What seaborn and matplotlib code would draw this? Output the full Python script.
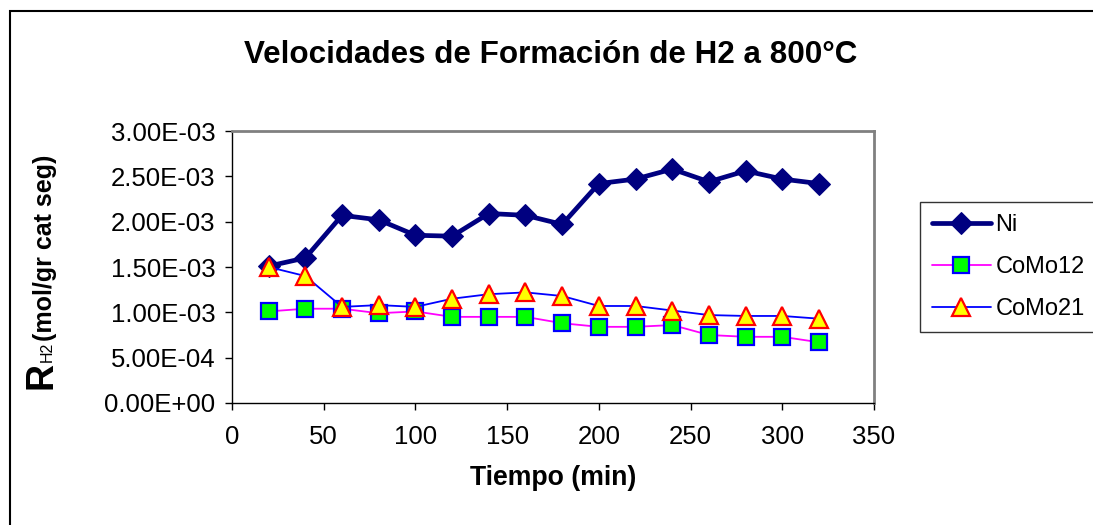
import numpy as np
import pandas as pd
import matplotlib
matplotlib.use("Agg")
import matplotlib.pyplot as plt
import seaborn as sns
from matplotlib.patches import Rectangle
from matplotlib.ticker import FuncFormatter

# ================== datos ==================
tiempo = [20, 40, 60, 80, 100, 120, 140, 160, 180, 200, 220, 240, 260, 280, 300, 320]
ni = [1.51e-3, 1.60e-3, 2.07e-3, 2.02e-3, 1.85e-3, 1.84e-3, 2.09e-3, 2.07e-3,
      1.97e-3, 2.42e-3, 2.47e-3, 2.58e-3, 2.44e-3, 2.56e-3, 2.47e-3, 2.42e-3]
como12 = [1.01e-3, 1.04e-3, 1.04e-3, 0.99e-3, 1.01e-3, 0.95e-3, 0.95e-3, 0.95e-3,
          0.88e-3, 0.84e-3, 0.84e-3, 0.86e-3, 0.75e-3, 0.73e-3, 0.73e-3, 0.67e-3]
como21 = [1.50e-3, 1.40e-3, 1.06e-3, 1.08e-3, 1.06e-3, 1.15e-3, 1.20e-3, 1.22e-3,
          1.18e-3, 1.07e-3, 1.07e-3, 1.02e-3, 0.97e-3, 0.96e-3, 0.96e-3, 0.93e-3]

df = pd.DataFrame({"Tiempo": tiempo, "Ni": ni, "CoMo12": como12, "CoMo21": como21})

sns.set_style("ticks")
plt.rcParams['font.family'] = ['Liberation Sans', 'DejaVu Sans']
plt.rcParams['text.color'] = 'black'
plt.rcParams['axes.labelcolor'] = 'black'

W, H = 1093, 525
fig = plt.figure(figsize=(W / 100, H / 100), dpi=100)
ax = fig.add_axes([232 / W, 1 - 403 / H, (874 - 232) / W, (403 - 131) / H])

sns.lineplot(data=df, x="Tiempo", y="Ni", ax=ax, color="#000080", lw=3.4,
             marker="D", markersize=11, markerfacecolor="#000080",
             markeredgecolor="#000080", label="Ni")
sns.lineplot(data=df, x="Tiempo", y="CoMo12", ax=ax, color="#FF00FF", lw=1.3,
             marker="s", markersize=11, markerfacecolor="#00FF00",
             markeredgecolor="#0000FF", markeredgewidth=1.6, label="CoMo12")
sns.lineplot(data=df, x="Tiempo", y="CoMo21", ax=ax, color="#0000FF", lw=1.3,
             marker="^", markersize=13, markerfacecolor="#FFFF00",
             markeredgecolor="#FF0000", markeredgewidth=1.6, label="CoMo21")

ax.set_xlim(0, 350)
ax.set_ylim(0, 0.003)
ax.set_xticks(np.arange(0, 351, 50))
ax.set_yticks(np.arange(0, 0.00301, 0.0005))
ax.yaxis.set_major_formatter(FuncFormatter(lambda v, p: "{:.2E}".format(v)))
ax.tick_params(axis="both", direction="out", length=5, width=1, colors="black",
               labelsize=18.5)
ax.tick_params(axis="x", pad=11)
ax.tick_params(axis="y", pad=7)
ax.set_xlabel("")
ax.set_ylabel("")

for s in ["left", "bottom"]:
    ax.spines[s].set_color("black")
    ax.spines[s].set_linewidth(1)
for s in ["top", "right"]:
    ax.spines[s].set_visible(True)
    ax.spines[s].set_color("#808080")
    ax.spines[s].set_linewidth(2)

ax.get_legend().remove()
handles, labels = ax.get_legend_handles_labels()
leg = fig.legend(handles, labels, loc="upper left",
                 bbox_to_anchor=(920 / W, 1 - 202 / H), fontsize=17,
                 frameon=True, fancybox=False, edgecolor="black",
                 handlelength=2.5, labelspacing=0.85, borderpad=0.5,
                 handletextpad=0.2, borderaxespad=0)
leg.get_frame().set_linewidth(1)

# titulo y etiquetas
fig.text(551 / W, 1 - 55 / H, "Velocidades de Formación de H2 a 800°C",
         ha="center", va="center", fontsize=22.6, fontweight="bold")
fig.text(553 / W, 1 - 478 / H, "Tiempo (min)", ha="center", va="center",
         fontsize=19.2, fontweight="bold")

base_x = 52 / W
fig.text(base_x, 1 - 389 / H, "R", rotation=90, rotation_mode="anchor",
         ha="left", va="baseline", fontsize=27, fontweight="bold")
fig.text(base_x, 1 - 362 / H, "H2", rotation=90, rotation_mode="anchor",
         ha="left", va="baseline", fontsize=11.5)
fig.text(base_x, 1 - 341 / H, "(mol/gr cat seg)", rotation=90,
         rotation_mode="anchor", ha="left", va="baseline", fontsize=18,
         fontweight="bold")

# borde exterior del grafico
fig.patches.append(Rectangle((10 / W, -0.1), 1.2, 1.1 - 11 / H,
                             transform=fig.transFigure, fill=False,
                             edgecolor="black", lw=1.5))

fig.savefig("out.png", dpi=100)
